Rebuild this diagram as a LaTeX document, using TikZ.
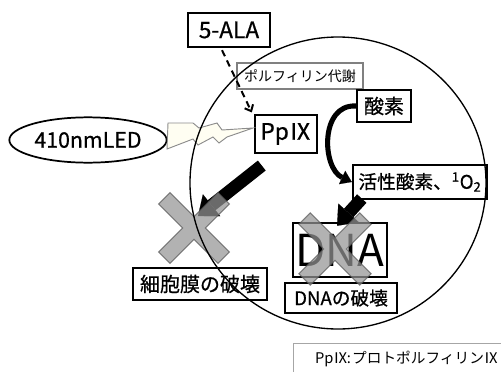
\documentclass[tikz,border=0pt]{standalone}
\usepackage{fontspec}
\setmainfont{Noto Sans CJK JP}[BoldFont=Noto Sans CJK JP, BoldFeatures={FakeBold=0.7}]
\usepackage{tikz}
\usetikzlibrary{arrows.meta, positioning, calc, shapes.geometric}

\begin{document}
\begin{tikzpicture}[
  x=0.75pt, y=-0.75pt,
  label_box/.style={draw, line width=1.3pt, inner sep=0pt, align=center, font=\bfseries\fontsize{15}{17}\selectfont},
  note_box/.style={draw=black!50, line width=0.8pt, inner sep=0pt, font=\fontsize{10.5}{12}\selectfont},
  light_ellipse/.style={ellipse, draw, line width=1.3pt, inner sep=0pt, minimum width=118pt, minimum height=34pt, font=\bfseries\fontsize{16}{18}\selectfont},
  block_arrow/.style={line width=9.5pt, -{Triangle[length=13pt, width=21pt, line width=0.1pt]}},
  curve_arrow/.style={line width=3.8pt, -{Triangle[length=8pt, width=11pt, line width=0.1pt]}},
  dash_arrow/.style={line width=1.5pt, dash pattern=on 5pt off 3.5pt, -{Straight Barb[length=4pt, width=7pt]}},
  cross_mark/.style={fill=black!42, draw=black!65, line width=0.8pt, opacity=0.72},
  bolt/.style={fill=yellow!5, draw=black!45, line width=0.7pt}
]
  \useasboundingbox (0,0) rectangle (501,372);

  % SOURCE: 5-ALA and the light
  \node (ala) [label_box, minimum width=61.5pt, minimum height=26pt, font=\bfseries\fontsize{17}{19}\selectfont] at (229,30) {5-ALA};
  \node (porph) [note_box, minimum width=94.5pt, minimum height=19.5pt] at (300,76) {ポルフィリン代謝};
  \node (led) [light_ellipse] at (88,140) {410nmLED};

  % CELL: PpIX and oxygen
  \node (ppix) [label_box, minimum width=47pt, minimum height=28pt, font=\bfseries\fontsize{17}{19}\selectfont] at (286,134) {PpⅨ};
  \node (sanso) [label_box, minimum width=41pt, minimum height=24pt] at (384,106) {酸素};
  \node (kassei) [label_box, minimum width=101pt, minimum height=25pt, font=\bfseries\fontsize{14}{16}\selectfont] at (420,182) {活性酸素、\textsuperscript{1}O\textsubscript{2}};

  % DAMAGE: membrane and DNA
  \node (saibou) [label_box, minimum width=100.5pt, minimum height=24pt] at (200,284) {細胞膜の破壊};
  \node (dna) [label_box, minimum width=70.5pt, minimum height=41pt, font=\fontsize{33}{35}\selectfont] at (340,250) {DNA};
  \node (dnahakai) [label_box, minimum width=84pt, minimum height=22.5pt, font=\bfseries\fontsize{14}{16}\selectfont] at (341,298) {DNAの破壊};

  % Legend
  \node (legend) [draw=black!35, line width=0.8pt, anchor=north west, inner xsep=5pt, minimum width=170pt, minimum height=22.5pt, font=\fontsize{11}{13}\selectfont] at (293,343) {PpⅨ\kern-1pt:\kern1pt プロトポルフィリンⅨ\hfill};

  % Light bolt
  \draw[bolt] (168,123) -- (193,123) -- (199,128) -- (217,123) -- (222,130) -- (253,128) -- (227,137) -- (219,143) -- (213,137) -- (198,145) -- (193,139) -- (167,149) -- cycle;

  % Connections
  \coordinate (hit_membrane) at (198,216);
  \draw[dash_arrow] ($(ala.south)+(-7,2)$) -- ($(ppix.north west)+(-2,-2)$);
  \draw[curve_arrow] (sanso.west) .. controls +(-36,-2) and +(-30,-14) .. (kassei.west);
  \draw[block_arrow] ($(ppix.south west)+(8,12)$) -- (hit_membrane);
  \draw[block_arrow] ($(kassei.south west)+(10,-1)$) -- ($(dna.north)+(-3,4)$);

  % Crosses
  \begin{scope}[shift={(194,228)}, rotate=45]
    \draw[cross_mark] (8,8) -- (42,8) -- (42,-8) -- (8,-8) -- (8,-42) -- (-8,-42) -- (-8,-8) -- (-42,-8) -- (-42,8) -- (-8,8) -- (-8,42) -- (8,42) -- cycle;
  \end{scope}
  \begin{scope}[shift={(335,249)}, rotate=45]
    \draw[cross_mark] (8,8) -- (43,8) -- (43,-8) -- (8,-8) -- (8,-43) -- (-8,-43) -- (-8,-8) -- (-43,-8) -- (-43,8) -- (-8,8) -- (-8,43) -- (8,43) -- cycle;
  \end{scope}

  % Cell outline
  \draw[line width=1pt] (338,183) ellipse [x radius=111pt, y radius=109.5pt];

\end{tikzpicture}
\end{document}
